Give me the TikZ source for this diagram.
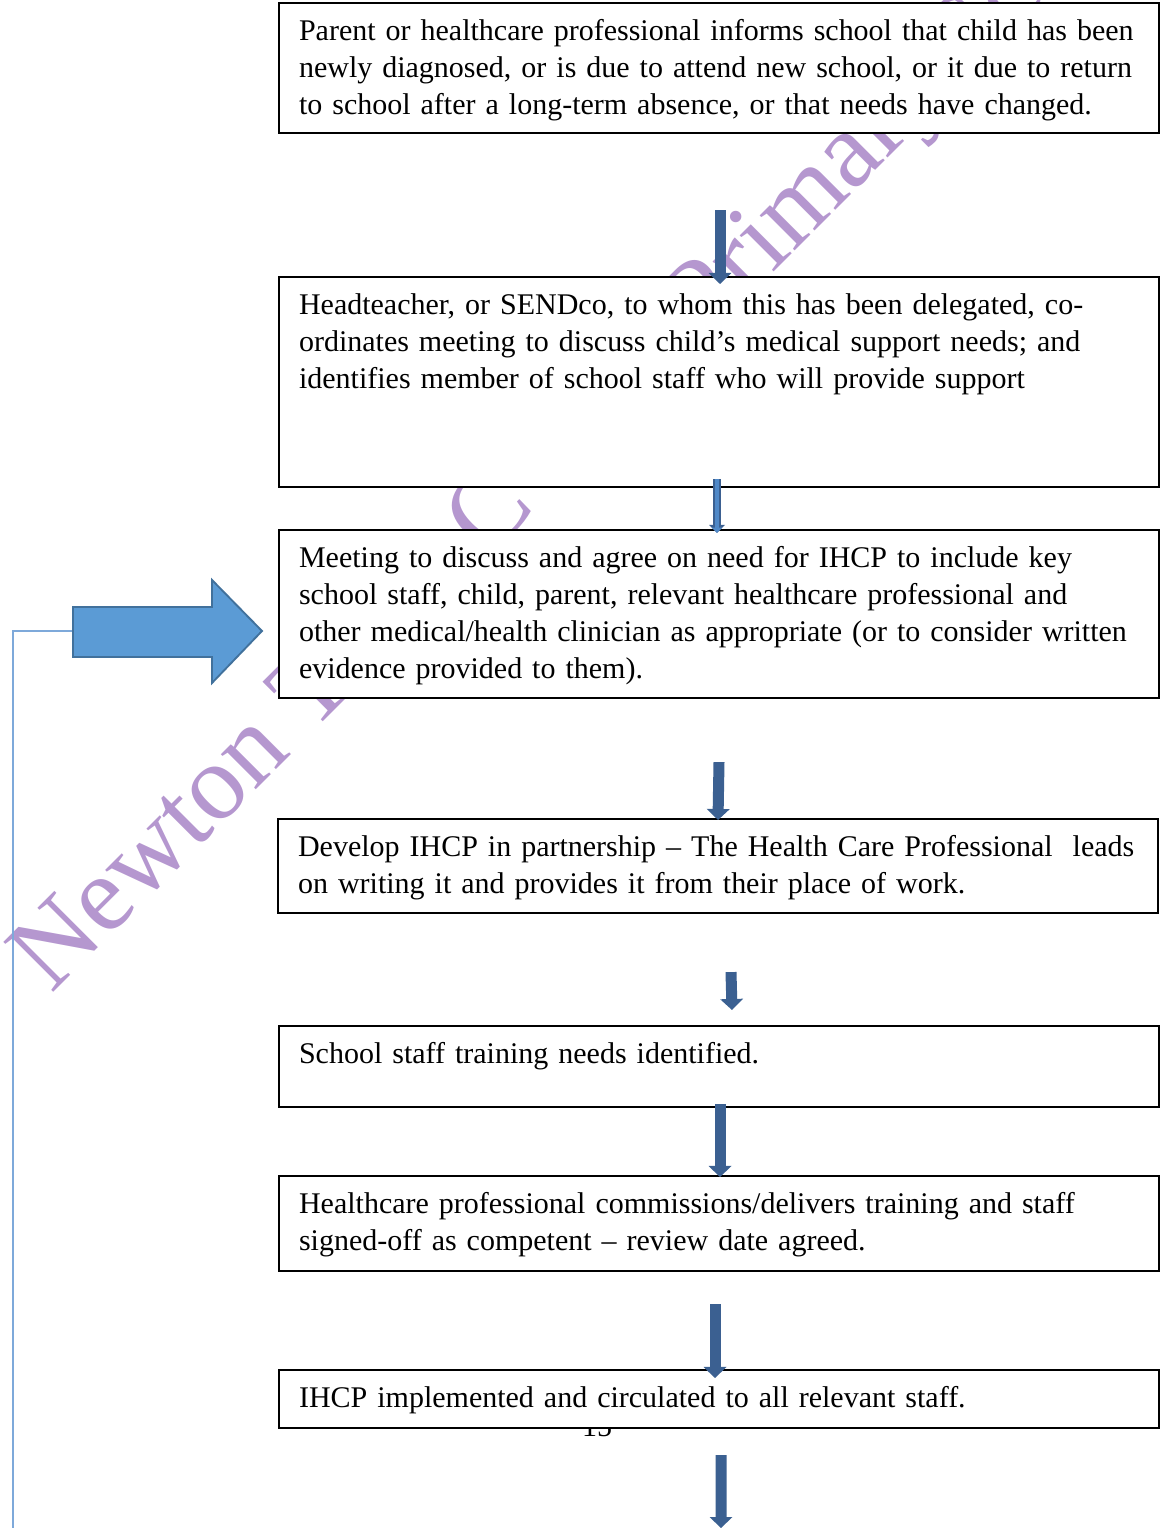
\documentclass[tikz,border=0pt]{standalone}
\usepackage{fontspec}
\setmainfont{Liberation Serif}
\usepackage{xcolor}
\usepackage{tikz}
\usetikzlibrary{arrows.meta}
\definecolor{Mark}{HTML}{B597CF}
\definecolor{Dark}{HTML}{3B6091}
\definecolor{Light}{HTML}{5089C8}
\definecolor{Edge}{HTML}{41719C}
\definecolor{Fill}{HTML}{5B9BD5}
\definecolor{Loop}{HTML}{7EA9DA}

\begin{document}
\begin{tikzpicture}[%
  stepbox/.style={draw, line width=0.9pt, fill=white, anchor=north west, text width=12.6cm, align=left, inner xsep=0.3cm, inner ysep=0.25cm, text height=0.315cm, font=\fontsize{12.8}{15.8}\selectfont},
  flow/.style={draw=Dark, line width=0.165cm, -{Triangle[width=0.345cm, length=0.165cm, line width=0pt]}},
  thinflow/.style={preaction={draw=Dark, line width=0.115cm, -{Triangle[width=0.24cm, length=0.12cm, line width=0pt]}}, draw=Light, line width=0.06cm, -{Triangle[width=0.16cm, length=0.08cm, line width=0pt]}}]%
\useasboundingbox (0,0) rectangle (17.4,22.92);%
% watermark
\node[font=\fontsize{46}{55}\selectfont, text=Mark, rotate=45, anchor=base west, inner sep=0pt] (mark) at (0.765, 8.0) {Newton Tony C of E Primary School};%
% loop back to the meeting
\coordinate (tail) at (1.095, 13.455);%
\coordinate (pagefoot) at (0.195, 0);%
\draw[Loop, line width=0.9pt] (tail) -| (pagefoot);%
\draw[fill=Fill, draw=Edge, line width=0.8pt] (1.095, 13.815) -- (3.18, 13.815) -- (3.18, 14.22) -- (3.93, 13.455) -- (3.18, 12.675) -- (3.18, 13.065) -- (1.095, 13.065) -- cycle;%
\node[font=\fontsize{12.8}{15.8}\selectfont, anchor=base] (pageno) at (8.955, 1.365) {15};%
% steps
\node[stepbox, text depth=1.135cm] (informs) at (4.17, 22.89) {Parent or healthcare professional informs school that child has been\\ newly diagnosed, or is due to attend new school, or it due to return\\ to school after a long-term absence, or that needs have changed.};%
\node[stepbox, text depth=2.335cm] (coordinates) at (4.17, 18.78) {Headteacher, or SENDco, to whom this has been delegated, co-\\ ordinates meeting to discuss child’s medical support needs; and\\ identifies member of school staff who will provide support};%
\node[stepbox, text depth=1.705cm] (meeting) at (4.17, 14.985) {Meeting to discuss and agree on need for IHCP to include key\\ school staff, child, parent, relevant healthcare professional and\\ other medical/health clinician as appropriate (or to consider written\\ evidence provided to them).};%
\node[stepbox, text depth=0.595cm] (develop) at (4.155, 10.65) {Develop IHCP in partnership – The Health Care Professional\ \ leads\\ on writing it and provides it from their place of work.};%
\node[stepbox, text depth=0.4cm] (training) at (4.17, 7.545) {School staff training needs identified.};%
\node[stepbox, text depth=0.61cm] (delivers) at (4.17, 5.295) {Healthcare professional commissions/delivers training and staff\\ signed-off as competent – review date agreed.};%
\node[stepbox, text depth=0.055cm] (implemented) at (4.17, 2.385) {IHCP implemented and circulated to all relevant staff.};%
% arrows
\draw[flow] ([xshift=6.63cm, yshift=-1.14cm]informs.south west) -- ([xshift=6.63cm, yshift=-0.12cm]coordinates.north west);%
\draw[thinflow] ([xshift=6.585cm, yshift=0.135cm]coordinates.south west) -- ([xshift=6.585cm, yshift=-0.06cm]meeting.north west);%
\draw[flow] ([xshift=6.615cm, yshift=-0.945cm]meeting.south west) -- ([xshift=6.615cm, yshift=-0.03cm]develop.north west);%
\draw[flow] ([xshift=6.81cm, yshift=-0.87cm]develop.south west) -- ([xshift=6.81cm, yshift=0.225cm]training.north west);%
\draw[flow] ([xshift=6.63cm, yshift=0.06cm]training.south west) -- ([xshift=6.63cm, yshift=-0.03cm]delivers.north west);%
\draw[flow] ([xshift=6.555cm, yshift=-0.48cm]delivers.south west) -- ([xshift=6.555cm, yshift=-0.135cm]implemented.north west);%
\coordinate (next) at (10.815, 0);%
\draw[flow] ([xshift=6.645cm, yshift=-0.39cm]implemented.south west) -- (next);%
\end{tikzpicture}
\end{document}
